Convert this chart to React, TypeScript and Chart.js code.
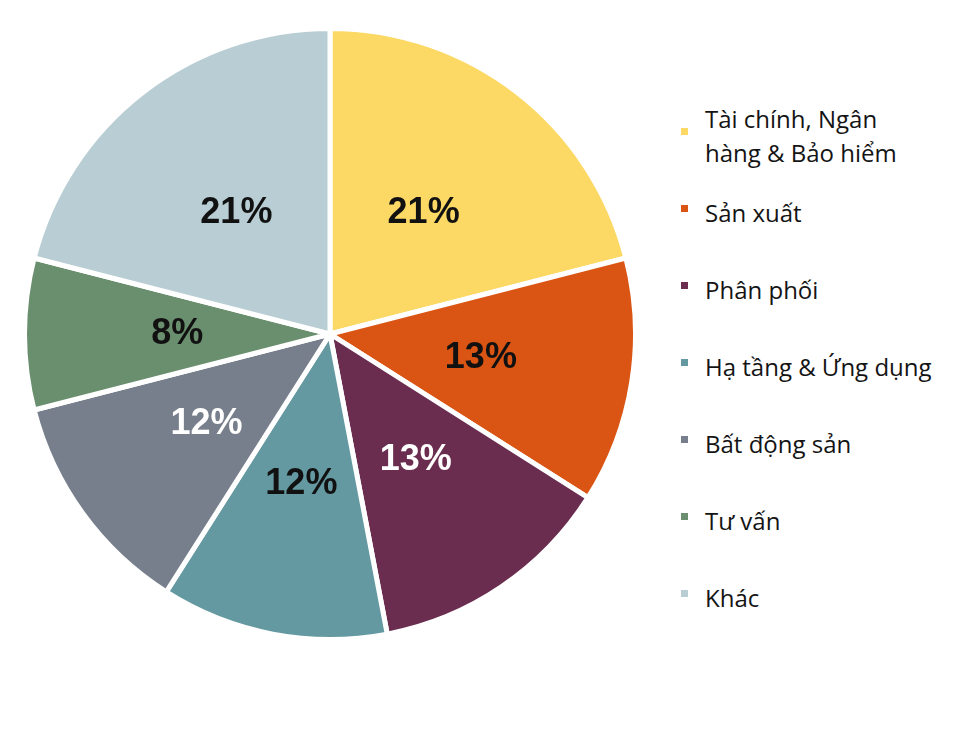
import React, { useEffect, useRef } from 'react'
import Chart, { ChartConfiguration, Plugin } from 'chart.js/auto'

// chart data
const sectors = [
  ['Tài chính, Ngân', 'hàng & Bảo hiểm'],
  ['Sản xuất'],
  ['Phân phối'],
  ['Hạ tầng & Ứng dụng'],
  ['Bất động sản'],
  ['Tư vấn'],
  ['Khác']
]
const shares = [21, 13, 13, 12, 12, 8, 21]
const sliceColors = ['#FCD965', '#DA5513', '#6A2C4F', '#6599A1', '#787F8C', '#6A8F6E', '#B9CED4']
const labelColors = ['#111111', '#111111', '#FFFFFF', '#111111', '#FFFFFF', '#111111', '#111111']

const percentLabels: Plugin<'pie'> = {
  id: 'percentLabels',
  afterDatasetsDraw(chart) {
    const ctx = chart.ctx
    const meta = chart.getDatasetMeta(0)
    ctx.save()
    ctx.font = 'bold 36px "Liberation Sans", Arial, sans-serif'
    ctx.textAlign = 'center'
    ctx.textBaseline = 'middle'
    meta.data.forEach((el, i) => {
      const { x, y, startAngle, endAngle, outerRadius } = (el as any).getProps(
        ['x', 'y', 'startAngle', 'endAngle', 'outerRadius'],
        true
      )
      const mid = (startAngle + endAngle) / 2
      const r = outerRadius * 0.5
      ctx.fillStyle = labelColors[i]
      ctx.fillText(`${shares[i]}%`, x + Math.cos(mid) * r, y + Math.sin(mid) * r)
    })
    ctx.restore()
  }
}

const PieChart: React.FC = () => {
  const chartRef = useRef<HTMLCanvasElement | null>(null)

  useEffect(() => {
    if (!chartRef.current) return
    const config: ChartConfiguration<'pie'> = {
      type: 'pie',
      data: {
        labels: sectors.map((s) => s.join(' ')),
        datasets: [
          {
            data: shares,
            backgroundColor: sliceColors,
            borderColor: '#FFFFFF',
            borderWidth: 5
          }
        ]
      },
      options: {
        responsive: true,
        maintainAspectRatio: false,
        animation: false,
        layout: { padding: 0 },
        plugins: {
          legend: { display: false },
          tooltip: { enabled: false }
        }
      },
      plugins: [percentLabels]
    }
    const chart = new Chart(chartRef.current, config)
    return () => {
      chart.destroy()
    }
  }, [])

  return (
    <div style={{ position: 'absolute', left: 14, top: 18, width: 616, height: 616 }}>
      <canvas ref={chartRef} />
    </div>
  )
}

const Legend: React.FC = () => (
  <div
    style={{
      position: 'absolute',
      left: 673,
      top: 89,
      fontFamily: '"Open Sans", sans-serif',
      fontSize: 24,
      lineHeight: '34px',
      color: '#141414'
    }}
  >
    {sectors.map((lines, i) => (
      <div key={i} style={{ height: 77, display: 'flex', alignItems: 'center' }}>
        <span
          style={{
            width: 7,
            height: 7,
            background: sliceColors[i],
            marginRight: 17,
            transform: 'translateY(-4px)',
            flexShrink: 0
          }}
        />
        <div>
          {lines.map((l, j) => (
            <div key={j}>{l}</div>
          ))}
        </div>
      </div>
    ))}
  </div>
)

export default function App() {
  return (
    <div style={{ position: 'relative', width: 949, height: 730, background: '#fff' }}>
      <PieChart />
      <Legend />
    </div>
  )
}
